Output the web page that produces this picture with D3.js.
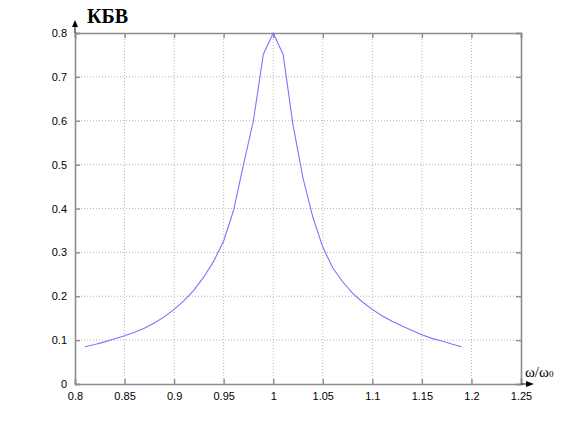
<!DOCTYPE html>
<html>
<head>
<meta charset="utf-8">
<script src="https://cdn.jsdelivr.net/npm/d3@7"></script>
<style>
  body { margin: 0; background: #fff; }
  .tick text { font-family: Arial, "Liberation Sans", sans-serif; font-size: 11px; fill: #000; }
</style>
</head>
<body>
<div id="chart"></div>
<script>
// frequency ratio w/w0 and the KBV values
var ratio = [0.81, 0.82, 0.83, 0.84, 0.85, 0.86, 0.87, 0.88, 0.89, 0.90,
             0.91, 0.92, 0.93, 0.94, 0.95, 0.96, 0.97, 0.98, 0.99, 1.00,
             1.01, 1.02, 1.03, 1.04, 1.05, 1.06, 1.07, 1.08, 1.09, 1.10,
             1.11, 1.12, 1.13, 1.14, 1.15, 1.16, 1.17, 1.18, 1.19];
var kbv = [0.085, 0.090, 0.096, 0.103, 0.110, 0.118, 0.127, 0.139, 0.153, 0.170,
           0.190, 0.214, 0.244, 0.280, 0.326, 0.396, 0.500, 0.600, 0.751, 0.800,
           0.751, 0.590, 0.470, 0.380, 0.312, 0.265, 0.233, 0.207, 0.187, 0.170,
           0.155, 0.143, 0.132, 0.122, 0.112, 0.104, 0.098, 0.091, 0.085];

var xTicks = [0.8, 0.85, 0.9, 0.95, 1, 1.05, 1.1, 1.15, 1.2, 1.25];
var yTicks = [0, 0.1, 0.2, 0.3, 0.4, 0.5, 0.6, 0.7, 0.8];

var svgWidth = 576;
var svgHeight = 432;
var margin = { top: 33, right: 55, bottom: 48, left: 75 };
var width = svgWidth - margin.left - margin.right;
var height = svgHeight - margin.top - margin.bottom;

var svg = d3.select("#chart")
  .append("svg")
  .attr("width", svgWidth)
  .attr("height", svgHeight);

var chartGroup = svg.append("g")
  .attr("transform", `translate(${margin.left}, ${margin.top})`);

var xScale = d3.scaleLinear().domain([0.8, 1.25]).range([0, width]);
var yScale = d3.scaleLinear().domain([0, 0.8]).range([height, 0]);

// dotted grid
chartGroup.append("g")
  .selectAll("line")
  .data(xTicks.slice(1, -1))
  .enter()
  .append("line")
  .attr("x1", d => xScale(d)).attr("x2", d => xScale(d))
  .attr("y1", 0).attr("y2", height)
  .attr("stroke", "#b4b4b4")
  .attr("stroke-dasharray", "1,2");

chartGroup.append("g")
  .selectAll("line")
  .data(yTicks.slice(1, -1))
  .enter()
  .append("line")
  .attr("x1", 0).attr("x2", width)
  .attr("y1", d => yScale(d)).attr("y2", d => yScale(d))
  .attr("stroke", "#b4b4b4")
  .attr("stroke-dasharray", "1,2");

// axes with inward ticks
var bottomAxis = d3.axisBottom(xScale).tickValues(xTicks).tickSize(-5).tickPadding(8).tickFormat(d3.format("~g"));
var leftAxis = d3.axisLeft(yScale).tickValues(yTicks).tickSize(-5).tickPadding(8).tickFormat(d3.format("~g"));
var topAxis = d3.axisTop(xScale).tickValues(xTicks).tickSize(-5).tickFormat("");
var rightAxis = d3.axisRight(yScale).tickValues(yTicks).tickSize(-5).tickFormat("");

chartGroup.append("g").attr("transform", `translate(0, ${height})`).call(bottomAxis);
chartGroup.append("g").call(leftAxis);
chartGroup.append("g").call(topAxis);
chartGroup.append("g").attr("transform", `translate(${width}, 0)`).call(rightAxis);

chartGroup.selectAll(".domain").attr("stroke", "#8c8c8c").attr("stroke-width", 1.6);
chartGroup.selectAll(".tick line").attr("stroke", "#8c8c8c").attr("stroke-width", 1.4);

// the curve
var line = d3.line()
  .x((d, i) => xScale(ratio[i]))
  .y(d => yScale(d));

chartGroup.append("path")
  .datum(kbv)
  .attr("d", line)
  .attr("fill", "none")
  .attr("stroke", "#7777ff")
  .attr("stroke-width", 1.1);

// axis arrows
chartGroup.append("path")
  .attr("d", `M-3,${-6} L3,${-6} L0,${-13} Z`)
  .attr("fill", "#000");
chartGroup.append("line")
  .attr("x1", 0).attr("x2", 0).attr("y1", 0).attr("y2", -7)
  .attr("stroke", "#000");

chartGroup.append("path")
  .attr("d", `M${width + 5},${height - 3} L${width + 5},${height + 3} L${width + 13},${height} Z`)
  .attr("fill", "#000");
chartGroup.append("line")
  .attr("x1", width).attr("x2", width + 6).attr("y1", height).attr("y2", height)
  .attr("stroke", "#000");

// labels
svg.append("text")
  .attr("x", 87)
  .attr("y", 23)
  .attr("font-family", "'Liberation Serif', 'Times New Roman', serif")
  .attr("font-weight", "bold")
  .attr("font-size", "20px")
  .text("КБВ");

var wLabel = svg.append("text")
  .attr("x", 525)
  .attr("y", 377)
  .attr("font-family", "'Liberation Serif', 'Times New Roman', serif")
  .attr("font-size", "15px")
  .text("ω/ω");
wLabel.append("tspan")
  .attr("font-size", "9px")
  .text("0");
</script>
</body>
</html>
